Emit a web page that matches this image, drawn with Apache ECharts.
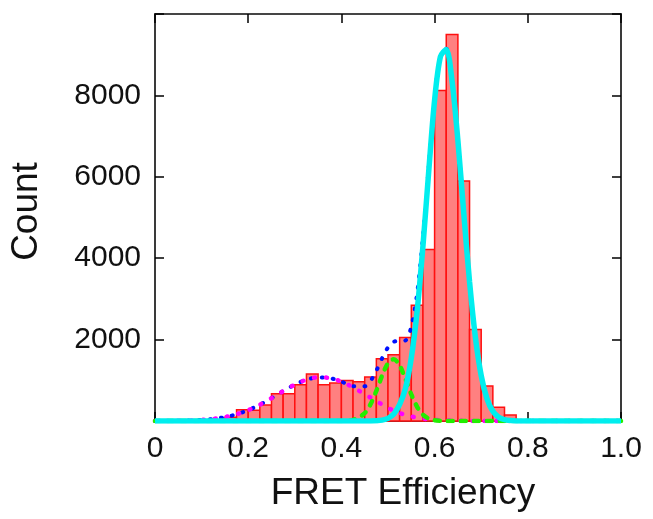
<!DOCTYPE html>
<html>
<head>
<meta charset="utf-8">
<script src="https://cdn.jsdelivr.net/npm/echarts@6/dist/echarts.min.js"></script>
<style>
html,body{margin:0;padding:0;background:#fff;}
#chart{width:653px;height:519px;}
</style>
</head>
<body>
<div id="chart"></div>
<script>
// Histogram bins (left edges) and counts
var binLeft = [0.15,0.175,0.2,0.225,0.25,0.275,0.3,0.325,0.35,0.375,0.4,0.425,0.45,0.475,0.5,0.525,0.55,0.575,0.6,0.625,0.65,0.675,0.7,0.725,0.75];
var binWidth = 0.025;
var counts = [90,277,262,393,670,670,891,1153,891,932,998,965,1080,1530,1628,2054,2847,4213,8123,9497,5897,2250,859,336,147];

// Fitted curves sampled on a shared x grid
var curveX = [0,0.025,0.05,0.075,0.1,0.125,0.15,0.175,0.2,0.225,0.25,0.275,0.3,0.325,0.35,0.375,0.4,0.425,0.45,
  0.4625,0.475,0.4875,0.5,0.5125,0.525,0.5375,0.55,0.5625,0.575,0.5875,0.6,0.6125,0.625,0.6375,0.65,0.6625,0.675,0.6875,0.7,0.7125,0.725,0.7375,0.75,0.7625,0.775,
  0.8,0.825,0.85,0.875,0.9,0.925,0.95,0.975,1.0];
var magentaY = [1,2,5,12,26,51,95,165,266,401,562,735,894,1014,1072,1055,968,828,659,
  573,489,405,320,255,195,150,112,82,60,42,30,21,14,10,6,4,3,2,1,1,0,0,0,0,0,
  0,0,0,0,0,0,0,0,0];
var greenY = [0,0,0,0,0,0,0,0,0,0,0,0,0,0,0,0,2,25,192,
  411,740,1118,1421,1519,1363,1029,653,348,156,59,19,5,1,0,0,0,0,0,0,0,0,0,0,0,0,
  0,0,0,0,0,0,0,0,0];
var cyanY = [0,0,0,0,0,0,0,0,0,0,0,0,0,0,0,0,0,0,1,
  2,7,22,66,173,409,800,1550,2700,4300,6150,7885,8950,9130,8348,6890,5118,3421,2059,1115,543,238,94,33,11,3,
  0,0,0,0,0,0,0,0,0];
var totalY = [1,2,5,12,26,51,95,165,266,401,562,735,894,1014,1072,1055,970,853,852,
  986,1236,1545,1807,1947,1967,1979,2315,3130,4516,6251,7934,8976,9145,8358,6896,5122,3424,2061,1116,544,238,94,33,11,3,
  0,0,0,0,0,0,0,0,0];

var xTicks = {min:0, max:1, interval:0.2};
var yTicks = {min:0, max:10000, interval:2000};

function pairs(ys){ return curveX.map(function(x,i){ return [x, ys[i]]; }); }
var barData = binLeft.map(function(l,i){ return [l, l+binWidth, counts[i]]; });

var FONT = '"Liberation Sans", Arial, sans-serif';
var frameColor = '#3a3a3a';
var tickStyle = {show:true,inside:false,length:-9,lineStyle:{color:'#000',width:1.5}};

var chart = echarts.init(document.getElementById('chart'), null, {renderer:'canvas'});
chart.setOption({
  animation:false,
  backgroundColor:'#ffffff',
  grid:{left:155,right:32,top:14,bottom:98,show:true,borderColor:frameColor,borderWidth:1.5,
        containLabel:false,outerBoundsMode:'none'},
  xAxis:[{
    type:'value',min:xTicks.min,max:xTicks.max,interval:xTicks.interval,position:'bottom',
    axisLine:{show:true,onZero:false,lineStyle:{color:frameColor,width:2}},
    axisTick:tickStyle,
    splitLine:{show:false},
    axisLabel:{fontSize:30,fontFamily:FONT,color:'#111',margin:13,
      formatter:function(v){ return v===0 ? '0' : v.toFixed(1); }},
    name:'FRET Efficiency',nameLocation:'middle',nameGap:54,
    nameTextStyle:{fontSize:37,fontFamily:FONT,color:'#111',padding:[0,0,0,30]}
  },{
    type:'value',min:xTicks.min,max:xTicks.max,interval:xTicks.interval,position:'top',
    axisLine:{show:true,onZero:false,lineStyle:{color:frameColor,width:1.5}},
    axisTick:tickStyle,
    splitLine:{show:false},axisLabel:{show:false}
  }],
  yAxis:[{
    type:'value',min:yTicks.min,max:yTicks.max,interval:yTicks.interval,position:'left',
    axisLine:{show:true,onZero:false,lineStyle:{color:frameColor,width:2}},
    axisTick:tickStyle,
    splitLine:{show:false},
    axisLabel:{fontSize:30,fontFamily:FONT,color:'#111',margin:14,
      formatter:function(v){ return (v===0||v===10000) ? '' : String(v); }},
    name:'Count',nameLocation:'middle',nameGap:110,
    nameTextStyle:{fontSize:37,fontFamily:FONT,color:'#111',padding:[0,0,0,12]}
  },{
    type:'value',min:yTicks.min,max:yTicks.max,interval:yTicks.interval,position:'right',
    axisLine:{show:true,onZero:false,lineStyle:{color:frameColor,width:2}},
    axisTick:tickStyle,
    splitLine:{show:false},axisLabel:{show:false}
  }],
  series:[{
    type:'custom',
    xAxisIndex:0,yAxisIndex:0,
    data:barData,
    encode:{x:[0,1],y:2},
    renderItem:function(params,api){
      var p0 = api.coord([api.value(0), api.value(2)]);
      var p1 = api.coord([api.value(1), 0]);
      return {
        type:'rect',
        shape:{x:p0[0],y:p0[1],width:p1[0]-p0[0],height:p1[1]-p0[1]},
        style:{fill:'#FF8080',stroke:'#FF1010',lineWidth:1.5}
      };
    },
    z:2
  },{
    type:'line',data:pairs(totalY),symbol:'none',smooth:0.3,
    lineStyle:{color:'#0010FF',width:4,type:[1,10],cap:'round'},z:3
  },{
    type:'line',data:pairs(magentaY),symbol:'none',smooth:0.3,
    lineStyle:{color:'#FF00FF',width:4.5,type:[1,11],cap:'round'},z:4
  },{
    type:'line',data:pairs(greenY),symbol:'none',smooth:0.3,
    lineStyle:{color:'#22EE00',width:4.5,type:[5,8],cap:'round'},z:5
  },{
    type:'line',data:pairs(cyanY),symbol:'none',smooth:0.3,
    lineStyle:{color:'#00EEEE',width:5.5},z:6
  }]
});
</script>
</body>
</html>
